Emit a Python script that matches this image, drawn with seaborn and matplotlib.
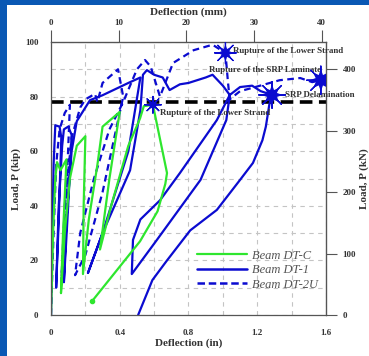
import matplotlib
matplotlib.use('Agg')
import numpy as np
import pandas as pd
import matplotlib.pyplot as plt
from matplotlib.patches import Rectangle
from matplotlib.lines import Line2D
import seaborn as sns

# Beam DT-C (green)
c_x = [0, 0.012, 0.025, 0.035, 0.055, 0.09, 0.07, 0.058, 0.08, 0.11, 0.15, 0.2, 0.19, 0.186,
       0.22, 0.27, 0.3, 0.4, 0.34, 0.285, 0.35, 0.45, 0.518, 0.54, 0.593, 0.675, 0.665,
       0.62, 0.518, 0.238]
c_y = [0, 30, 50, 56, 53, 57, 30, 8, 30, 50, 62, 65.5, 40, 15,
       35, 55, 69, 74.4, 50, 24, 40, 62, 72, 76.5, 77, 52, 48,
       38, 27, 5]

# Beam DT-1 (solid blue)
a_x = [0, 0.008, 0.015, 0.025, 0.05, 0.06, 0.045, 0.03, 0.045, 0.065, 0.075, 0.1, 0.12,
       0.1, 0.075, 0.09, 0.12, 0.15, 0.2, 0.227, 0.3, 0.4, 0.45, 0.52, 0.45, 0.3, 0.215,
       0.3, 0.46, 0.52, 0.535, 0.558, 0.6, 0.65, 0.69, 0.75, 0.8, 0.85, 0.9, 0.94, 1.0,
       1.04, 1.02, 0.87, 0.616, 0.47, 0.477, 0.52, 0.634, 0.75, 0.965, 1.04, 1.1, 1.17,
       1.22, 1.286, 1.27, 1.25, 1.23, 1.175, 1.1, 0.965, 0.81, 0.675, 0.59, 0.507]
a_y = [0, 30, 55, 69.5, 69, 65, 35, 10, 40, 62, 68, 69, 66,
       40, 12, 35, 60, 71, 76, 78.7, 80.5, 83.5, 85, 87, 60, 30, 15.4,
       30, 53, 75, 88, 89.7, 88, 87, 82.4, 84.5, 85, 86, 87, 88, 84,
       80.6, 71.4, 49.5, 27.5, 15, 27.5, 35, 42, 52, 71.4, 80.6, 83.5, 84,
       82, 80.6, 77, 69, 64, 55.7, 49.5, 38.5, 31, 20, 12.8, 0]

# Beam DT-2U (dashed blue)
b_x = [0, 0.015, 0.03, 0.05, 0.08, 0.11, 0.09, 0.06, 0.08, 0.12, 0.17, 0.2, 0.256, 0.27,
       0.3, 0.39, 0.42, 0.3, 0.2, 0.14, 0.17, 0.25, 0.34, 0.42, 0.5, 0.547, 0.58, 0.634,
       0.71, 0.83, 0.94, 1.015, 1.03, 1.04, 1.1, 1.16, 1.33, 1.45, 1.52, 1.57]
b_y = [0, 30, 55, 68, 74, 77, 45, 12, 40, 65, 76, 79, 81, 78,
       85, 90, 80, 45, 22, 14.6, 30, 50, 68, 78, 90, 93.4, 91, 80,
       92.3, 97, 99, 96, 85, 79, 82, 83, 86, 86.8, 85.3, 86]

star_x = [0.593, 1.015, 1.286, 1.57]
star_y = [77, 96, 80.6, 86]
star_size = [90, 150, 230, 260]

notes = ["Rupture of the Lower Strand", "Rupture of the Lower Strand",
         "SRP Delamination", "Rupture of the SRP Laminate"]
note_x = [0.634, 1.059, 1.361, 1.245]
note_y = [74, 96.7, 80.6, 89.7]
note_ha = ["left", "left", "left", "center"]

ult_load = 78  # kip, dashed reference line

green = '#2ee62e'
blue = '#0b0bd0'

sns.set_style('white')
plt.rcParams['font.family'] = ['Liberation Serif', 'DejaVu Serif']

fig = plt.figure(figsize=(3.69, 3.56), dpi=100, facecolor='#0a58b4')
fig.add_artist(Rectangle((7/369, 0), 1, 1 - 5/356, transform=fig.transFigure,
                         facecolor='white', edgecolor='none', zorder=-10))
ax = fig.add_axes([51/369, 1 - 315/356, 275/369, 273/356])
ax.set_facecolor('white')

ax.axhline(ult_load, color='black', lw=2.6, ls=(0, (3.5, 1.8)), zorder=2)

sns.lineplot(x=a_x, y=a_y, sort=False, estimator=None, color=blue, lw=1.6, ax=ax)
sns.lineplot(x=b_x, y=b_y, sort=False, estimator=None, color=blue, lw=1.6,
             linestyle=(0, (3, 2)), ax=ax)
sns.lineplot(x=c_x, y=c_y, sort=False, estimator=None, color=green, lw=1.6, ax=ax)
ax.plot(c_x[-1], c_y[-1], 'o', color=green, ms=3)

ax.scatter(star_x, star_y, s=star_size, marker=(8, 1, 0), color=blue, zorder=5, lw=0)
ax.scatter(star_x, star_y, s=[s * 1.6 for s in star_size], marker=(8, 2, 0),
           color=blue, zorder=5, lw=0.9)

for t, x, y, ha in zip(notes, note_x, note_y, note_ha):
    ax.text(x, y, t, ha=ha, va='center', fontsize=6.4, fontweight='bold', color='#333333')

ax.set_xlim(0, 1.6)
ax.set_ylim(0, 100)
ax.set_xticks([0, 0.4, 0.8, 1.2, 1.6])
ax.set_xticklabels(['0', '0.4', '0.8', '1.2', '1.6'])
ax.set_xticks(np.arange(0.2, 1.6, 0.4), minor=True)
ax.set_yticks([0, 20, 40, 60, 80, 100])
ax.set_yticks(np.arange(10, 100, 20), minor=True)
ax.grid(True, which='both', color='#c4c4c4', ls=(0, (4, 4)), lw=0.8)
ax.set_axisbelow(True)

lab = dict(fontsize=8, fontweight='bold', color='#333333')
ax.set_xlabel('Deflection (in)', labelpad=1, **lab)
ax.set_ylabel('Load, P (kip)', labelpad=3, **lab)
ax.tick_params(axis='x', which='major', direction='out', length=8, width=0.8,
               color='#555555', labelsize=6.5, pad=2, labelcolor='#333333')
ax.tick_params(axis='y', which='major', direction='inout', length=14, width=0.8,
               color='#555555', labelsize=6.5, pad=2, labelcolor='#333333')
ax.tick_params(which='minor', length=0)
for t in ax.get_xticklabels() + ax.get_yticklabels():
    t.set_fontweight('bold')
for s in ax.spines.values():
    s.set_color('#555555')
    s.set_linewidth(0.9)

top = ax.secondary_xaxis('top', functions=(lambda v: v * 25.4, lambda v: v / 25.4))
top.set_xticks([0, 10, 20, 30, 40])
top.tick_params(direction='out', length=9, width=0.8, color='#555555',
                labelsize=6.5, pad=1.5, labelcolor='#333333')
top.set_xlabel('Deflection (mm)', labelpad=3, **lab)
for t in top.get_xticklabels():
    t.set_fontweight('bold')

right = ax.secondary_yaxis('right', functions=(lambda v: v * 4.448, lambda v: v / 4.448))
right.set_yticks([0, 100, 200, 300, 400])
right.tick_params(direction='out', length=8, width=0.8, color='#555555',
                  labelsize=6.5, pad=4, labelcolor='#333333')
right.set_ylabel('Load, P (kN)', labelpad=2, **lab)
for t in right.get_yticklabels():
    t.set_fontweight('bold')

handles = [Line2D([], [], color=green, lw=1.6),
           Line2D([], [], color=blue, lw=1.8),
           Line2D([], [], color=blue, lw=1.8, ls=(0, (3, 1.5)))]
leg = ax.legend(handles, ['Beam DT-C', 'Beam DT-1', 'Beam DT-2U'], loc='lower right',
                bbox_to_anchor=(1.0, 0.062), frameon=False, handlelength=4.0,
                labelspacing=0.2, handletextpad=0.4, borderaxespad=0.2,
                prop={'family': 'Liberation Serif', 'style': 'italic', 'size': 9})
for t in leg.get_texts():
    t.set_color('#555555')

fig.savefig('out.png', dpi=100, facecolor=fig.get_facecolor())
